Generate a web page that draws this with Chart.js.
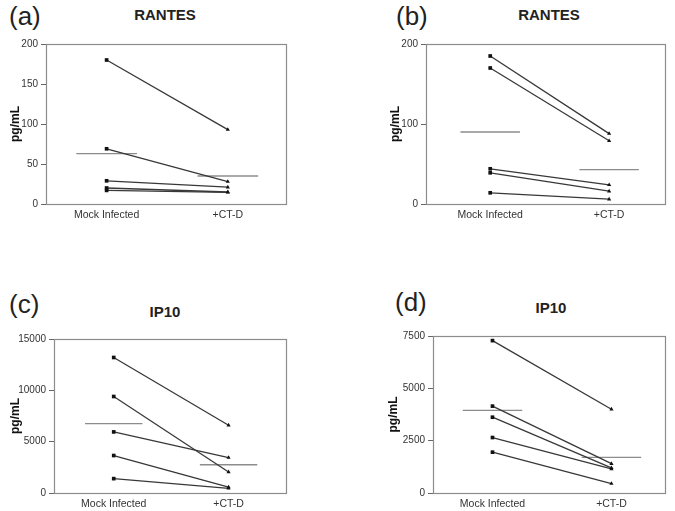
<!DOCTYPE html>
<html><head><meta charset="utf-8">
<script src="https://cdn.jsdelivr.net/npm/chart.js@4.4.1/dist/chart.umd.min.js"></script>
<style>
html,body{margin:0;padding:0;background:#fff;}
body{width:675px;height:511px;position:relative;overflow:hidden;font-family:"Liberation Sans",Arial,sans-serif;}
canvas{position:absolute;}
.lbl{position:absolute;font-size:26px;color:#222;line-height:1;}
.ttl{position:absolute;font-size:15px;font-weight:bold;color:#222;line-height:1;transform:translateX(-50%);}
</style></head>
<body>
<div class="lbl" style="left:9px;top:3px">(a)</div>
<div class="lbl" style="left:396px;top:3px">(b)</div>
<div class="lbl" style="left:9px;top:291px">(c)</div>
<div class="lbl" style="left:395px;top:289px">(d)</div>
<div class="ttl" style="left:165px;top:7px">RANTES</div>
<div class="ttl" style="left:549px;top:7px">RANTES</div>
<div class="ttl" style="left:165px;top:304px">IP10</div>
<div class="ttl" style="left:551px;top:300px">IP10</div>
<canvas id="ca" width="337" height="250" style="left:0;top:0"></canvas>
<canvas id="cb" width="335" height="250" style="left:340px;top:0"></canvas>
<canvas id="cc" width="337" height="261" style="left:0;top:250px"></canvas>
<canvas id="cd" width="335" height="261" style="left:340px;top:250px"></canvas>
<script>
// ---- data ----
const categories = ['Mock Infected', '+CT-D'];
const yTitle = 'pg/mL';

const rantesA_mock = [180, 69, 29, 20, 17];
const rantesA_ctd  = [93, 28, 21, 15, 14.5];
const rantesA_mean = [63, 35];
const rantesA_ticks = [0, 50, 100, 150, 200];

const rantesB_mock = [185, 170, 44, 39, 14];
const rantesB_ctd  = [88, 79, 24, 16, 6];
const rantesB_mean = [90, 43];
const rantesB_ticks = [0, 100, 200];

const ip10C_mock = [13200, 9400, 5950, 3650, 1400];
const ip10C_ctd  = [6600, 2050, 3450, 580, 450];
const ip10C_mean = [6750, 2750];
const ip10C_ticks = [0, 5000, 10000, 15000];

const ip10D_mock = [7280, 4150, 3620, 2650, 1950];
const ip10D_ctd  = [4000, 1400, 1200, 1150, 450];
const ip10D_mean = [3950, 1700];
const ip10D_ticks = [0, 2500, 5000, 7500];

// ---- drawing ----
const LINE = '#383838', MEAN = '#8c8c8c', FRAME = '#8c8c8c', TXT = '#333';
const frame = {
  id: 'frame',
  beforeDatasetsDraw(chart) {
    const a = chart.chartArea, ctx = chart.ctx;
    ctx.save(); ctx.strokeStyle = FRAME; ctx.lineWidth = 1.2;
    ctx.strokeRect(Math.round(a.left) + 0.5, Math.round(a.top) + 0.5, Math.round(a.right - a.left), Math.round(a.bottom - a.top));
    ctx.restore();
  }
};

function panel(id, mock, ctd, mean, ticks, L) {
  const ds = [];
  mock.forEach((v, i) => ds.push({
    data: [{x: 0, y: v}, {x: 1, y: ctd[i]}],
    borderColor: LINE, backgroundColor: '#111', borderWidth: 1.3,
    pointStyle: ['rect', 'triangle'], pointRadius: [2.6, 2.4], pointBorderWidth: 0
  }));
  mean.forEach((m, k) => ds.push({
    data: [{x: k - 0.25, y: m}, {x: k + 0.25, y: m}],
    borderColor: MEAN, borderWidth: 1.3, pointRadius: 0
  }));
  new Chart(document.getElementById(id), {
    type: 'line',
    data: {datasets: ds},
    options: {
      responsive: false, animation: false,
      plugins: {legend: {display: false}, tooltip: {enabled: false}},
      layout: {padding: {left: L.pl, right: L.pr, top: L.pt, bottom: 0}},
      scales: {
        x: {
          type: 'linear', min: L.xmin, max: L.xmax,
          afterFit: s => { s.height = L.xh; },
          afterBuildTicks: s => { s.ticks = categories.map((c, i) => ({value: i})); },
          ticks: {callback: v => categories[v], color: TXT, font: {family: 'Liberation Sans', size: 10.5}, padding: 5, maxRotation: 0, autoSkip: false},
          grid: {display: false, drawTicks: false, tickLength: 0}, border: {display: false}
        },
        y: {
          min: ticks[0], max: ticks[ticks.length - 1],
          afterFit: s => { s.width = L.yw; },
          afterBuildTicks: s => { s.ticks = ticks.map(v => ({value: v})); },
          ticks: {callback: v => String(v), color: TXT, font: {family: 'Liberation Sans', size: 10}, padding: 3},
          grid: {drawOnChartArea: false, drawTicks: true, tickLength: 5, color: '#666'},
          border: {display: false},
          title: {display: true, text: yTitle, color: '#111', font: {family: 'Liberation Sans', size: 12, weight: 'bold'}, padding: {top: 8, bottom: 0}}
        }
      }
    },
    plugins: [frame]
  });
}

panel('ca', rantesA_mock, rantesA_ctd, rantesA_mean, rantesA_ticks, {pl: 0, pr: 51, pt: 44, xh: 46, yw: 46, xmin: -0.5, xmax: 1.48});
panel('cb', rantesB_mock, rantesB_ctd, rantesB_mean, rantesB_ticks, {pl: 40, pr: 10, pt: 44, xh: 46, yw: 46, xmin: -0.54, xmax: 1.47});
panel('cc', ip10C_mock, ip10C_ctd, ip10C_mean, ip10C_ticks, {pl: 0, pr: 51, pt: 89, xh: 18, yw: 54, xmin: -0.52, xmax: 1.5});
panel('cd', ip10D_mock, ip10D_ctd, ip10D_mean, ip10D_ticks, {pl: 38, pr: 10, pt: 86, xh: 18, yw: 55, xmin: -0.5, xmax: 1.45});
</script>
</body></html>
